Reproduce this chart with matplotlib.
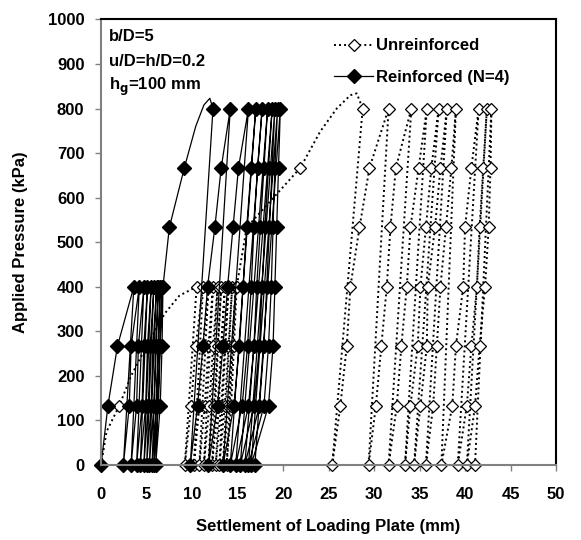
import matplotlib
matplotlib.use("Agg")
import matplotlib.pyplot as plt

plt.rcParams['font.family'] = ['Liberation Sans', 'DejaVu Sans']
plt.rcParams['font.weight'] = 'bold'

# ---------------- unreinforced ----------------
# first loading up to 400 kPa (1 = marker shown)
u_init_x = [0, 0.6, 2.0, 3.3, 5.0, 7.0, 8.6, 10.5]
u_init_p = [0, 75, 133, 200, 267, 340, 380, 400]
u_init_mark = [1, 0, 1, 0, 1, 0, 0, 1]
# cycles at 400 kPa: settlement at 0 after unloading, reload at 133/267, top at 400
u_bot1 = [9.2, 10.2, 10.8, 11.3, 11.8, 12.2, 12.6, 13.0, 13.4, 13.8]
u_mid1 = [[9.9, 10.4], [10.8, 11.2], [11.4, 11.8], [11.9, 12.3], [12.4, 12.8],
          [12.8, 13.2], [13.2, 13.6], [13.6, 14.0], [14.0, 14.4], [14.3, 14.6]]
u_top1 = [11.2, 11.8, 12.3, 12.8, 13.2, 13.6, 14.0, 14.4, 14.8]
# loading 400 -> 800 kPa
u_ramp_x = [14.9, 16.0, 21.9, 24.1, 25.9, 27.4, 28.1, 28.75]
u_ramp_p = [400, 533, 667, 749, 800, 830, 834, 800]
u_ramp_mark = [1, 1, 1, 0, 0, 0, 0, 1]
# cycles at 800 kPa: reload at 133/267/400/533/667, top at 800
u_bot2 = [25.4, 29.4, 31.6, 33.4, 34.4, 35.7, 37.4, 39.2, 40.2, 41.1]
u_mid2 = [[26.3, 27.0, 27.4, 28.4, 29.5],
          [30.2, 30.8, 31.4, 31.8, 32.4],
          [32.5, 33.0, 33.6, 34.0, 34.9],
          [34.0, 34.8, 35.1, 35.7, 36.3],
          [35.1, 35.8, 35.9, 36.7, 37.3],
          [36.5, 36.9, 37.3, 37.9, 38.5],
          [38.6, 39.0, 39.8, 40.0, 40.7],
          [40.2, 40.7, 41.3, 41.6, 42.0],
          [41.1, 41.6, 42.2, 42.6, 42.8]]
u_top2 = [31.6, 34.1, 35.8, 37.1, 38.0, 39.0, 41.5, 42.4, 42.9]

# ---------------- reinforced (N=4) ----------------
r_init_x = [0, 0.75, 1.8, 3.6]
r_init_p = [0, 133, 267, 400]
r_init_mark = [1, 1, 1, 1]
r_bot1 = [2.45, 3.3, 3.9, 4.3, 4.7, 5.0, 5.3, 5.6, 5.8, 6.0]
r_mid1 = [[3.1, 3.3], [3.9, 4.1], [4.5, 4.7], [4.9, 5.1], [5.2, 5.4],
          [5.5, 5.7], [5.8, 6.0], [6.1, 6.3], [6.3, 6.5], [6.5, 6.7]]
r_top1 = [4.2, 4.7, 5.1, 5.5, 5.8, 6.1, 6.3, 6.5, 6.7]
r_ramp_x = [6.8, 7.5, 9.15, 10.4, 11.3, 11.95, 12.3]
r_ramp_p = [400, 533, 667, 760, 808, 823, 800]
r_ramp_mark = [1, 1, 1, 0, 0, 0, 1]
r_bot2 = [9.8, 11.8, 13.4, 14.2, 14.8, 15.3, 15.8, 16.2, 16.5, 16.9]
r_mid2 = [[10.6, 11.2, 11.7, 12.5, 13.2],
          [12.8, 13.4, 13.9, 14.5, 15.1],
          [14.6, 15.2, 15.6, 16.0, 16.5],
          [15.5, 16.1, 16.5, 16.8, 17.2],
          [16.2, 16.8, 17.1, 17.5, 17.9],
          [16.8, 17.4, 17.7, 18.0, 18.4],
          [17.4, 17.9, 18.2, 18.5, 18.8],
          [17.9, 18.4, 18.7, 18.9, 19.1],
          [18.4, 18.9, 19.1, 19.3, 19.5]]
r_top2 = [14.2, 16.2, 17.0, 17.7, 18.3, 18.8, 19.1, 19.4, 19.7]

reload1_p = [133, 267]
reload2_p = [133, 267, 400, 533, 667]


def build_path(init_x, init_p, init_mark, bot1, mid1, top1,
               ramp_x, ramp_p, ramp_mark, bot2, mid2, top2):
    xs, ps, mk = list(init_x), list(init_p), [bool(m) for m in init_mark]
    for k, b in enumerate(bot1):
        xs += [b] + mid1[k]
        ps += [0] + reload1_p
        mk += [True] * 3
        if k < len(top1):
            xs.append(top1[k]); ps.append(400); mk.append(True)
    xs += ramp_x; ps += ramp_p; mk += [bool(m) for m in ramp_mark]
    for k, b in enumerate(bot2):
        xs.append(b); ps.append(0); mk.append(True)
        if k < len(mid2):
            xs += mid2[k] + [top2[k]]
            ps += reload2_p + [800]
            mk += [True] * 6
    return xs, ps, mk


ux, up, um = build_path(u_init_x, u_init_p, u_init_mark, u_bot1, u_mid1, u_top1,
                        u_ramp_x, u_ramp_p, u_ramp_mark, u_bot2, u_mid2, u_top2)
rx, rp, rm = build_path(r_init_x, r_init_p, r_init_mark, r_bot1, r_mid1, r_top1,
                        r_ramp_x, r_ramp_p, r_ramp_mark, r_bot2, r_mid2, r_top2)

fig = plt.figure(figsize=(5.81, 5.40), dpi=100)
ax = fig.add_axes([0.174, 0.139, 0.783, 0.825])

ax.plot(ux, up, color='black', linestyle=(0, (1, 1.6)), linewidth=1.4,
        marker='D', markersize=6.3, markerfacecolor='white', markeredgecolor='black',
        markeredgewidth=0.9, markevery=um, label='Unreinforced', clip_on=False)
ax.plot(rx, rp, color='black', linestyle='-', linewidth=0.9,
        marker='D', markersize=7, markerfacecolor='black', markeredgecolor='black',
        markevery=rm, label='Reinforced (N=4)', clip_on=False)

ax.set_xlim(0, 50)
ax.set_ylim(0, 1000)
ax.set_xticks(range(0, 51, 5))
ax.set_yticks(range(0, 1001, 100))
ax.tick_params(direction='out', length=4, width=1, color='#808080', labelsize=12)
ax.tick_params(axis='x', pad=12)
ax.tick_params(axis='y', pad=8)
for lab in ax.get_xticklabels() + ax.get_yticklabels():
    lab.set_fontweight('bold')

for side in ['top', 'right']:
    ax.spines[side].set_color('black')
    ax.spines[side].set_linewidth(1.5)
for side in ['left', 'bottom']:
    ax.spines[side].set_color('#808080')
    ax.spines[side].set_linewidth(1.5)

ax.set_xlabel('Settlement of Loading Plate (mm)', fontsize=12, fontweight='bold', labelpad=12)
ax.set_ylabel('Applied Pressure (kPa)', fontsize=12, fontweight='bold', labelpad=14)

ax.text(0.017, 0.962, 'b/D=5', transform=ax.transAxes, fontsize=12, fontweight='bold', va='center')
ax.text(0.017, 0.906, 'u/D=h/D=0.2', transform=ax.transAxes, fontsize=12, fontweight='bold', va='center')
ax.text(0.017, 0.848, r'h$_{\mathbf{g}}$=100 mm', transform=ax.transAxes, fontsize=12,
        fontweight='bold', va='center')

leg = ax.legend(loc='upper right', bbox_to_anchor=(0.92, 0.98), frameon=False, numpoints=1,
                handlelength=2.3, handletextpad=0.2, labelspacing=1.0, fontsize=12,
                borderaxespad=0.2)
for t in leg.get_texts():
    t.set_fontweight('bold')

fig.savefig('out.png', dpi=100)
